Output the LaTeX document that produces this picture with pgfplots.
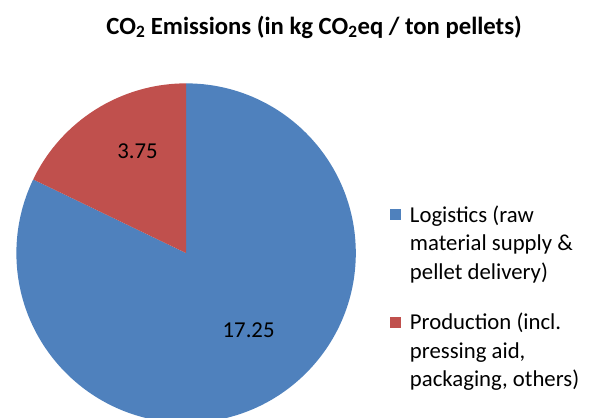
\documentclass[border=0pt]{standalone}
\usepackage{fontspec}
\setmainfont{Carlito}
\usepackage{pgfplots}
\usepackage{pgfplotstable}
\pgfplotsset{compat=1.18}

\definecolor{logblue}{HTML}{4F81BD}
\definecolor{prodred}{HTML}{C0504D}

% CO2 emissions per ton of pellets
\pgfplotstableread{
part value
Logistics 17.25
Production 3.75
}\pietable

\begin{document}
\pgfplotstablegetelem{0}{value}\of\pietable \let\vlog\pgfplotsretval
\pgfplotstablegetelem{1}{value}\of\pietable \let\vprod\pgfplotsretval
\pgfmathsetmacro{\aend}{90-360*\vlog/(\vlog+\vprod)}
\pgfmathsetmacro{\pend}{90+360*\vprod/(\vlog+\vprod)}
\begin{tikzpicture}
\useasboundingbox (0,0) rectangle (592bp,421bp);
\begin{axis}[
    x=1bp, y=1bp,
    xmin=0, xmax=592, ymin=0, ymax=421,
    scale only axis,
    hide axis,
    clip=true,
    font=\fontsize{23}{28}\selectfont,
    title={\fontsize{25}{30}\selectfont\bfseries CO\textsubscript{2} Emissions (in kg CO\textsubscript{2}eq / ton pellets)},
    title style={at={(0.527,0.921)}, anchor=center, inner sep=0pt},
    legend cell align=left,
    legend style={at={(axis cs:388,214)}, anchor=north west, draw=none, fill=none,
        inner sep=0pt, row sep=32bp, column sep=10bp,
        nodes={inner sep=0pt, align=left},
        font=\fontsize{23}{29}\selectfont},
]
\fill[logblue] (axis cs:183,166) -- +(90:171bp) arc[start angle=90, end angle=\aend, radius=171bp] -- cycle;
\fill[prodred] (axis cs:183,166) -- +(90:171bp) arc[start angle=90, end angle=\pend, radius=171bp] -- cycle;
\addlegendimage{legend image code/.code={\fill[logblue] (0bp,24bp) rectangle (10bp,34bp);}}
\addlegendentry{Logistics (raw\\material supply \&\\pellet delivery)}
\addlegendimage{legend image code/.code={\fill[prodred] (0bp,24bp) rectangle (10bp,34bp);}}
\addlegendentry{Production (incl.\\pressing aid,\\packaging, others)}
\node at (axis cs:134,269) {3.75};
\node at (axis cs:246,88) {17.25};
\end{axis}
\end{tikzpicture}
\end{document}
